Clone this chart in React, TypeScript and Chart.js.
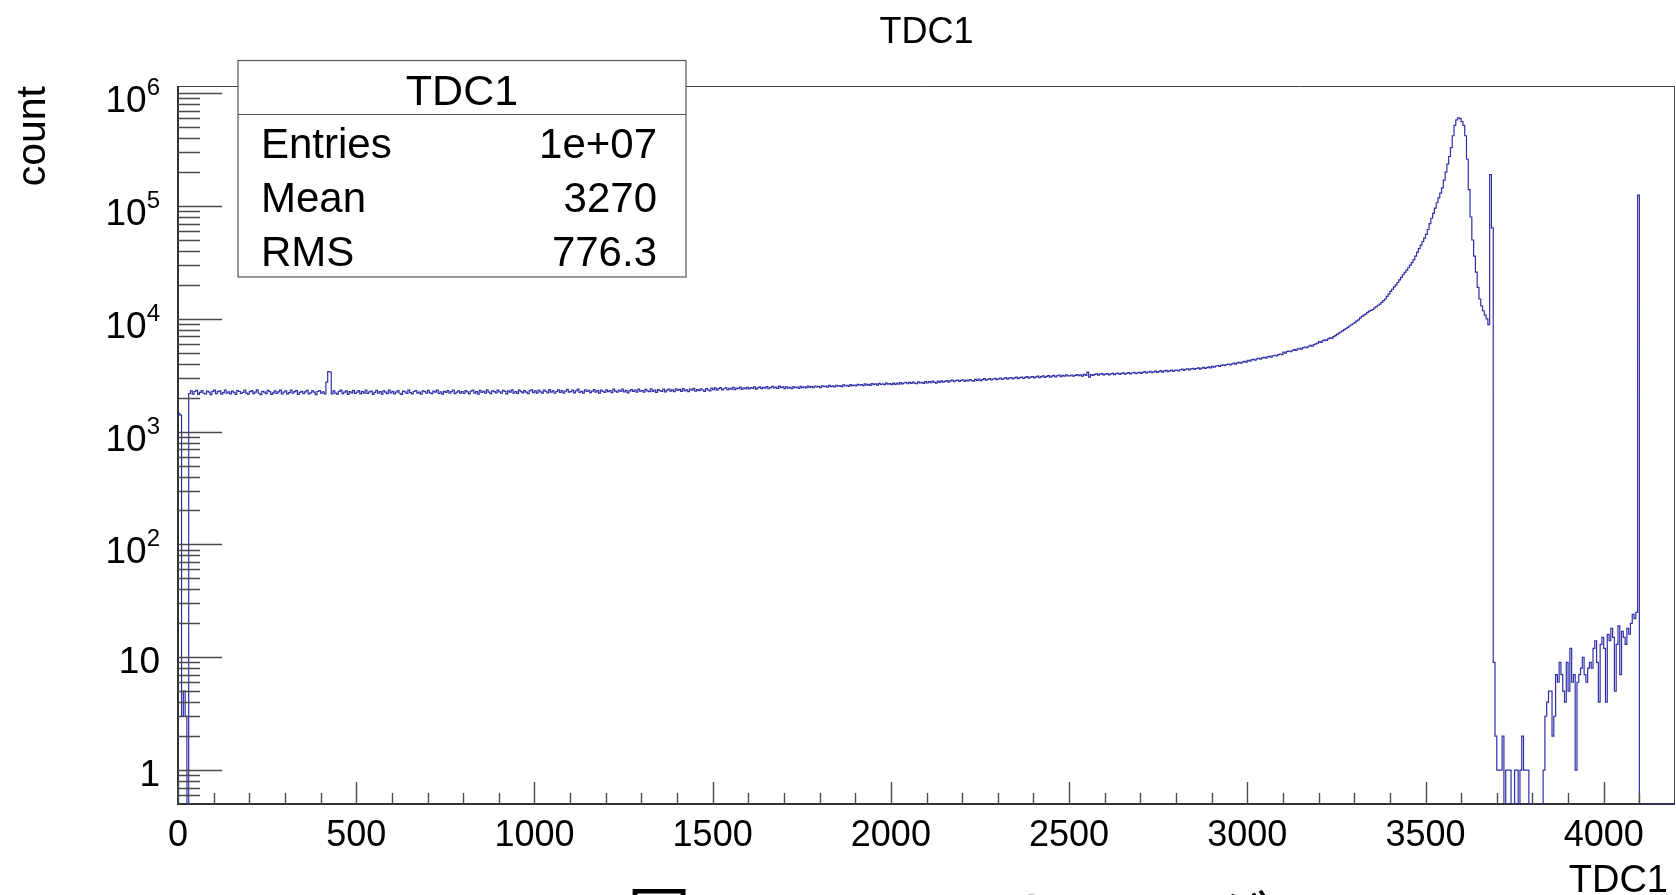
import React, { useEffect, useRef } from 'react';
import { Chart, registerables } from 'chart.js';

Chart.register(...registerables);

// ---------- data ----------
const BIN_WIDTH = 5;
const X_MIN = 0;
const X_MAX = 4200;
const Y_MIN = 0.5;
const Y_MAX = 1.16e6;

// bin contents, 5-unit bins (TDC channel)
const counts0000 = [
  1450, 1400, 3, 5, 3, 0, 2180, 2300, 2150, 2270, 2320, 2140, 2230, 2310, 2190, 2160, 2290, 2240, 2130, 2280,
  2330, 2170, 2260, 2300, 2150, 2220, 2340, 2190, 2250, 2160, 2290, 2230, 2140, 2310, 2270, 2180, 2230, 2340, 2200, 2150,
  2260, 2310, 2170, 2240, 2350, 2190, 2130, 2280, 2240, 2170, 2320, 2260, 2140, 2210, 2300, 2180, 2250, 2330, 2160, 2240,
  2300, 2150, 2220, 2340, 2190, 2260, 2310, 2140, 2230, 2280, 2170, 2250, 2320, 2160, 2210, 2300, 2240, 2130, 2270, 2310,
  2190, 2250, 2160, 2750, 3400, 3380, 2160, 2300, 2200, 2150, 2280, 2330, 2170, 2240, 2300, 2140, 2260, 2210, 2320, 2180,
];
const counts0500 = [
  2240, 2310, 2160, 2270, 2200, 2340, 2180, 2250, 2290, 2140, 2230, 2320, 2190, 2260, 2150, 2300, 2240, 2170, 2330, 2210,
  2280, 2160, 2240, 2310, 2190, 2140, 2290, 2250, 2180, 2330, 2220, 2160, 2270, 2310, 2200, 2240, 2150, 2300, 2260, 2190,
  2320, 2210, 2170, 2290, 2240, 2330, 2180, 2250, 2150, 2280, 2230, 2310, 2190, 2260, 2340, 2170, 2240, 2300, 2200, 2270,
  2180, 2310, 2250, 2160, 2290, 2340, 2200, 2260, 2150, 2320, 2230, 2280, 2190, 2350, 2240, 2170, 2300, 2260, 2210, 2330,
  2250, 2190, 2320, 2280, 2160, 2300, 2240, 2350, 2200, 2270, 2180, 2330, 2260, 2210, 2310, 2240, 2170, 2300, 2350, 2220,
];
const counts1000 = [
  2300, 2200, 2340, 2250, 2190, 2330, 2280, 2210, 2360, 2240, 2300, 2190, 2270, 2350, 2230, 2310, 2200, 2290, 2370, 2240,
  2260, 2340, 2210, 2300, 2380, 2230, 2280, 2200, 2350, 2270, 2320, 2220, 2290, 2360, 2240, 2310, 2200, 2340, 2280, 2230,
  2350, 2260, 2310, 2220, 2380, 2290, 2240, 2340, 2270, 2390, 2250, 2320, 2210, 2300, 2360, 2270, 2330, 2240, 2380, 2290,
  2310, 2240, 2370, 2300, 2260, 2400, 2280, 2340, 2230, 2360, 2310, 2270, 2390, 2250, 2330, 2380, 2290, 2350, 2260, 2400,
  2320, 2370, 2280, 2410, 2300, 2350, 2260, 2390, 2330, 2420, 2290, 2360, 2310, 2400, 2340, 2280, 2410, 2350, 2300, 2430,
];
const counts1500 = [
  2360, 2440, 2330, 2410, 2460, 2350, 2400, 2450, 2340, 2420, 2380, 2470, 2360, 2430, 2400, 2480, 2370, 2450, 2410, 2470,
  2390, 2460, 2420, 2500, 2380, 2440, 2490, 2410, 2470, 2430, 2510, 2400, 2460, 2520, 2440, 2480, 2420, 2530, 2460, 2490,
  2400, 2490, 2430, 2470, 2410, 2510, 2450, 2480, 2420, 2520, 2460, 2500, 2440, 2530, 2470, 2510, 2450, 2540, 2490, 2520,
  2460, 2550, 2500, 2530, 2480, 2570, 2510, 2550, 2490, 2580, 2530, 2560, 2510, 2600, 2540, 2580, 2520, 2610, 2560, 2590,
  2550, 2630, 2580, 2610, 2560, 2650, 2590, 2630, 2570, 2670, 2610, 2650, 2590, 2680, 2620, 2660, 2610, 2690, 2640, 2670,
];
const counts2000 = [
  2610, 2690, 2630, 2700, 2640, 2720, 2650, 2700, 2740, 2660, 2730, 2680, 2750, 2690, 2660, 2770, 2700, 2740, 2680, 2780,
  2700, 2780, 2720, 2800, 2730, 2690, 2810, 2740, 2820, 2750, 2790, 2840, 2750, 2820, 2860, 2770, 2830, 2870, 2790, 2850,
  2880, 2790, 2870, 2820, 2900, 2840, 2800, 2910, 2850, 2930, 2840, 2890, 2950, 2860, 2910, 2960, 2870, 2930, 2970, 2890,
  2940, 2990, 2900, 2960, 3010, 2920, 2980, 3020, 2930, 3000, 3040, 2950, 3010, 3050, 2960, 3030, 3070, 2980, 3040, 3080,
  3000, 3060, 3110, 3010, 3080, 3120, 3030, 3090, 3140, 3050, 3110, 3160, 3060, 3130, 3180, 3080, 3150, 3100, 3190, 3120,
];
const counts2500 = [
  3120, 3180, 3100, 3160, 3210, 3130, 3190, 3110, 3220, 3160, 3370, 3050, 3200, 3150, 3220, 3250, 3170, 3230, 3270, 3190,
  3230, 3270, 3190, 3250, 3290, 3200, 3270, 3310, 3220, 3280, 3320, 3230, 3290, 3340, 3250, 3310, 3350, 3260, 3320, 3360,
  3290, 3350, 3400, 3310, 3370, 3420, 3330, 3390, 3440, 3350, 3410, 3470, 3370, 3440, 3500, 3400, 3460, 3520, 3430, 3490,
  3520, 3460, 3540, 3580, 3490, 3570, 3610, 3530, 3600, 3640, 3560, 3630, 3680, 3590, 3660, 3710, 3630, 3700, 3750, 3680,
  3790, 3730, 3820, 3860, 3780, 3870, 3910, 3840, 3940, 3980, 3900, 3990, 4050, 3970, 4070, 4120, 4040, 4140, 4200, 4130,
];
const counts3000 = [
  4290, 4220, 4330, 4380, 4300, 4420, 4460, 4390, 4510, 4560, 4480, 4600, 4650, 4580, 4710, 4760, 4690, 4820, 4880, 4810,
  5080, 4970, 5140, 5190, 5110, 5260, 5330, 5250, 5410, 5480, 5400, 5550, 5630, 5560, 5720, 5810, 5740, 5900, 6010, 6100,
  6280, 6200, 6400, 6520, 6440, 6650, 6790, 6720, 6950, 7110, 7300, 7480, 7650, 7830, 8020, 8210, 8420, 8640, 8870, 9050,
  9300, 9600, 9800, 10200, 10500, 10800, 11000, 11400, 11700, 11900, 12100, 12500, 12800, 13200, 13500, 14000, 14500, 15000, 15800, 16600,
  17500, 18300, 19200, 20000, 21000, 22200, 23300, 24600, 25800, 27000, 28400, 30000, 31500, 33500, 36000, 39000, 42000, 45000, 48500, 52000,
];
const counts3500 = [
  56000, 62000, 70000, 78000, 86000, 96000, 107000, 118000, 130000, 145000, 170000, 200000, 235000, 275000, 330000, 420000, 520000, 580000, 606000, 595000,
  560000, 520000, 420000, 260000, 140000, 80000, 50000, 36000, 26000, 19000, 15000, 13000, 11800, 10800, 10000, 8900, 190000, 64000, 9, 2,
  1, 1, 1, 2, 0, 1, 1, 1, 0, 0, 1, 1, 0, 1, 2, 1, 1, 1, 0, 0,
  0, 0, 0, 0, 0, 0, 1, 3, 4, 5, 5, 2, 3, 7, 6, 9, 7, 5, 4, 9,
  5, 12, 6, 7, 1, 6, 7, 8, 10, 7, 6, 8, 9, 8, 12, 14, 9, 4, 13, 15,
];
const counts4000 = [
  12, 4, 16, 14, 18, 15, 5, 13, 19, 7, 17, 15, 13, 18, 16, 20, 24, 22, 25, 125000,
  0, 0, 0, 0, 0, 0, 0, 0, 0, 0, 0, 0, 0, 0, 0, 0, 0, 0, 0, 0,
];

const xMajorTicks = [0, 500, 1000, 1500, 2000, 2500, 3000, 3500, 4000];
const xTickLabels = ['0', '500', '1000', '1500', '2000', '2500', '3000', '3500', '4000'];
const X_MINOR_STEP = 100;
const yDecades = [0, 1, 2, 3, 4, 5, 6];
const yTickBases = ['1', '10', '10', '10', '10', '10', '10'];
const yTickExponents = ['', '', '2', '3', '4', '5', '6'];

const chartTitle = 'TDC1';
const xAxisTitle = 'TDC1';
const yAxisTitle = 'count';
const statsTitle = 'TDC1';
const statsNames = ['Entries', 'Mean', 'RMS'];
const statsValues = ['1e+07', '3270', '776.3'];
const captionHead = '図';
const captionTail = 'のヒストグラム';

// ---------- drawing ----------
const W = 1676;
const H = 895;
const FONT = "'Liberation Sans', Arial, Helvetica, sans-serif";
const CJK = "'Noto Sans CJK JP', 'Noto Sans CJK SC', sans-serif";

const rootStyle = {
  id: 'rootStyle',
  beforeDatasetsDraw(chart: any) {
    const { ctx, chartArea: a } = chart;
    ctx.save();
    ctx.strokeStyle = '#444';
    ctx.lineWidth = 1;
    ctx.beginPath();
    ctx.moveTo(a.left, a.top + 0.5);
    ctx.lineTo(a.right - 0.5, a.top + 0.5);
    ctx.lineTo(a.right - 0.5, a.bottom);
    ctx.stroke();
    ctx.strokeStyle = '#333';
    ctx.lineWidth = 2;
    ctx.beginPath();
    ctx.moveTo(a.left, a.top);
    ctx.lineTo(a.left, a.bottom);
    ctx.lineTo(a.right, a.bottom);
    ctx.stroke();
    ctx.restore();
  },
  afterDatasetsDraw(chart: any) {
    const { ctx, chartArea: a, scales } = chart;
    const x = scales.x;
    const y = scales.y;
    ctx.save();
    ctx.strokeStyle = '#4a4a4a';
    ctx.lineWidth = 1.4;
    // x ticks
    ctx.beginPath();
    for (let v = X_MIN; v < X_MAX; v += X_MINOR_STEP) {
      const px = Math.round(x.getPixelForValue(v)) + 0.5;
      const len = xMajorTicks.includes(v) ? 22 : 11;
      ctx.moveTo(px, a.bottom);
      ctx.lineTo(px, a.bottom - len);
    }
    // y ticks
    for (let k = -1; k <= 6; k++) {
      for (let m = 1; m <= 9; m++) {
        const v = m * Math.pow(10, k);
        if (v <= Y_MIN || v >= Y_MAX) continue;
        const py = Math.round(y.getPixelForValue(v)) + 0.5;
        const len = m === 1 ? 44 : 22;
        ctx.moveTo(a.left, py);
        ctx.lineTo(a.left + len, py);
      }
    }
    ctx.stroke();

    ctx.fillStyle = '#000';
    // x tick labels
    ctx.font = `36px ${FONT}`;
    ctx.textAlign = 'center';
    ctx.textBaseline = 'alphabetic';
    xMajorTicks.forEach((v, i) => {
      ctx.fillText(xTickLabels[i], x.getPixelForValue(v), 846);
    });
    // y tick labels
    yDecades.forEach((k, i) => {
      const py = y.getPixelForValue(Math.pow(10, k));
      const exp = yTickExponents[i];
      ctx.textAlign = 'right';
      if (!exp) {
        ctx.font = `37px ${FONT}`;
        ctx.fillText(yTickBases[i], 160, py + 16);
      } else {
        ctx.font = `24px ${FONT}`;
        const ew = ctx.measureText(exp).width;
        ctx.fillText(exp, 160, py + 2);
        ctx.font = `37px ${FONT}`;
        ctx.fillText(yTickBases[i], 160 - ew, py + 19);
      }
    });

    // titles
    ctx.font = `36px ${FONT}`;
    ctx.textAlign = 'center';
    ctx.fillText(chartTitle, (a.left + a.right) / 2, 43);
    ctx.font = `38px ${FONT}`;
    ctx.textAlign = 'right';
    ctx.fillText(xAxisTitle, 1668, 892);
    ctx.save();
    ctx.font = `41px ${FONT}`;
    ctx.translate(45, a.top);
    ctx.rotate(-Math.PI / 2);
    ctx.textAlign = 'right';
    ctx.fillText(yAxisTitle, 0, 0);
    ctx.restore();

    // stats box
    const bx = 238, by = 60.5, bw = 448, bh = 216.5;
    ctx.fillStyle = '#fff';
    ctx.fillRect(bx, by, bw, bh);
    ctx.strokeStyle = '#555';
    ctx.lineWidth = 1.2;
    ctx.strokeRect(bx, by, bw, bh);
    ctx.beginPath();
    ctx.moveTo(bx, 114.5);
    ctx.lineTo(bx + bw, 114.5);
    ctx.stroke();
    ctx.fillStyle = '#000';
    ctx.font = `43px ${FONT}`;
    ctx.textAlign = 'center';
    ctx.fillText(statsTitle, bx + bw / 2, 105);
    ctx.font = `42px ${FONT}`;
    statsNames.forEach((n, i) => {
      const base = 158 + i * 54;
      ctx.textAlign = 'left';
      ctx.fillText(n, 261, base);
      ctx.textAlign = 'right';
      ctx.fillText(statsValues[i], 657, base);
    });

    // caption (cut off by the bottom of the picture)
    ctx.font = `64px ${CJK}`;
    ctx.textAlign = 'left';
    ctx.fillText(captionHead, 627, 940);
    ctx.fillText(captionTail, 950, 944);
    ctx.restore();
  },
};

export default function App() {
  const ref = useRef<HTMLCanvasElement | null>(null);
  useEffect(() => {
    document.body.style.margin = '0';
    const canvas = ref.current;
    if (!canvas) return;
    const counts = [
      ...counts0000, ...counts0500, ...counts1000, ...counts1500,
      ...counts2000, ...counts2500, ...counts3000, ...counts3500, ...counts4000,
    ];
    const pts = counts.map((c, i) => ({ x: X_MIN + i * BIN_WIDTH, y: c > 0 ? c : Y_MIN }));
    const last = counts[counts.length - 1];
    pts.push({ x: X_MAX, y: last > 0 ? last : Y_MIN });
    const chart = new Chart(canvas, {
      type: 'line',
      data: {
        datasets: [
          {
            data: pts,
            stepped: true,
            borderColor: '#3030a8',
            borderWidth: 1.2,
            pointRadius: 0,
            fill: false,
          },
        ],
      },
      options: {
        responsive: false,
        animation: false,
        events: [],
        layout: { padding: { left: 0, top: 86, right: 1, bottom: 0 } },
        scales: {
          x: {
            type: 'linear',
            min: X_MIN,
            max: X_MAX,
            ticks: { display: false },
            grid: { display: false },
            border: { display: false },
            afterFit: (s: any) => { s.height = H - 804; },
          },
          y: {
            type: 'logarithmic',
            min: Y_MIN,
            max: Y_MAX,
            ticks: { display: false },
            grid: { display: false },
            border: { display: false },
            afterFit: (s: any) => { s.width = 178; },
          },
        },
        plugins: {
          legend: { display: false },
          tooltip: { enabled: false },
          title: { display: false },
        },
      },
      plugins: [rootStyle],
    } as any);
    return () => chart.destroy();
  }, []);
  return (
    <div style={{ position: 'absolute', left: 0, top: 0, width: W, height: H, overflow: 'hidden', background: '#fff' }}>
      <canvas ref={ref} width={W} height={H} style={{ width: W, height: H, display: 'block' }} />
    </div>
  );
}
